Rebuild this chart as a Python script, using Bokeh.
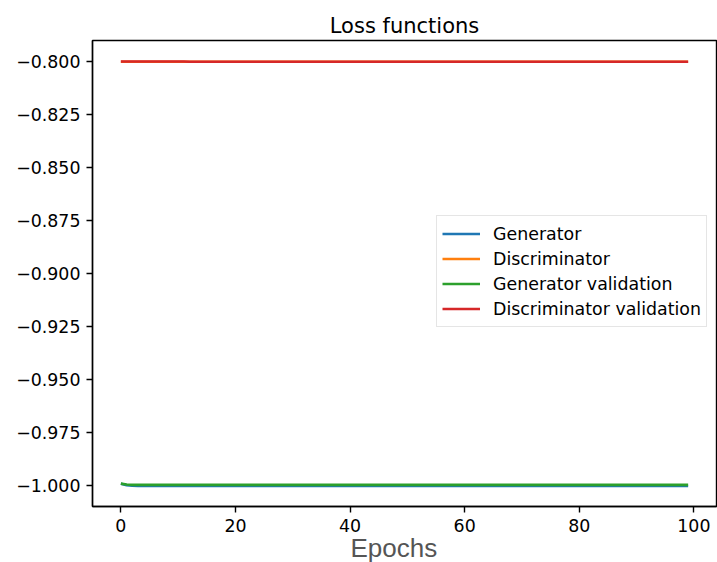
from bokeh.plotting import figure
from bokeh.models import Range1d, FixedTicker, Legend, LegendItem, Title
from bokeh.embed import file_html
from bokeh.resources import INLINE

epochs = list(range(100))

generator = [-0.9993, -0.9999, -1.0002] + [-1.0003] * 97
discriminator = [-0.8000] * 100
generator_validation = [-0.9992, -0.9996, -0.9998] + [-0.9998] * 97
discriminator_validation = [-0.7999] * 12 + [-0.8000] * 88

series_names = ["Generator", "Discriminator", "Generator validation", "Discriminator validation"]
series_colors = ["#1f77b4", "#ff7f0e", "#2ca02c", "#d62728"]

x_ticks = [0, 20, 40, 60, 80, 100]
x_tick_labels = ["0", "20", "40", "60", "80", "100"]
y_ticks = [-0.800, -0.825, -0.850, -0.875, -0.900, -0.925, -0.950, -0.975, -1.000]
y_tick_labels = ["\u22120.800", "\u22120.825", "\u22120.850", "\u22120.875", "\u22120.900",
                 "\u22120.925", "\u22120.950", "\u22120.975", "\u22121.000"]

title_text = "Loss functions"
x_label = "Epochs"

FONT = "DejaVu Sans"

p = figure(width=717, height=562,
           x_range=Range1d(-4.95, 103.95), y_range=Range1d(-1.01, -0.79),
           output_backend="svg", toolbar_location=None,
           min_border_left=92, min_border_right=1, min_border_top=40, min_border_bottom=56,
           title=title_text)

p.background_fill_color = "white"
p.border_fill_color = "white"
p.outline_line_color = "black"
p.outline_line_width = 1.4
p.xgrid.visible = False
p.ygrid.visible = False

p.title.text_font = FONT
p.title.text_font_size = "21px"
p.title.text_font_style = "normal"
p.title.text_color = "black"
p.title.align = "center"
p.title.standoff = 6

for ax in (p.xaxis[0], p.yaxis[0]):
    ax.axis_line_color = "black"
    ax.axis_line_width = 1.4
    ax.major_tick_line_color = "black"
    ax.major_tick_line_width = 1.4
    ax.major_tick_out = 6
    ax.major_tick_in = 0
    ax.minor_tick_line_color = None
    ax.major_label_text_font = FONT
    ax.major_label_text_font_size = "17.4px"
    ax.major_label_text_color = "black"
    ax.major_label_standoff = 6

p.xaxis.ticker = FixedTicker(ticks=x_ticks)
p.xaxis.major_label_overrides = {t: l for t, l in zip(x_ticks, x_tick_labels)}
p.yaxis.ticker = FixedTicker(ticks=y_ticks)
p.yaxis.major_label_overrides = {t: l for t, l in zip(y_ticks, y_tick_labels)}

renderers = []
for ys, c in zip([generator, discriminator, generator_validation, discriminator_validation], series_colors):
    r = p.line(epochs, ys, line_color=c, line_width=2.6)
    renderers.append(r)

legend = Legend(items=[LegendItem(label=n, renderers=[r]) for n, r in zip(series_names, renderers)],
                location=(344, 179))
legend.label_text_font = FONT
legend.label_text_font_size = "17.4px"
legend.label_text_color = "black"
legend.glyph_width = 38
legend.glyph_height = 25
legend.label_height = 25
legend.label_standoff = 13
legend.spacing = 0
legend.padding = 5
legend.margin = 0
legend.border_line_color = "#cccccc"
legend.border_line_width = 1
legend.background_fill_color = "white"
legend.background_fill_alpha = 0.8
p.add_layout(legend, "center")

xlab = Title(text=x_label, align="left", offset=258, standoff=-7,
             text_font="Liberation Sans", text_font_size="26px", text_font_style="normal",
             text_color="#555555")
p.add_layout(xlab, "below")

open("out.html", "w").write(file_html(p, INLINE))
